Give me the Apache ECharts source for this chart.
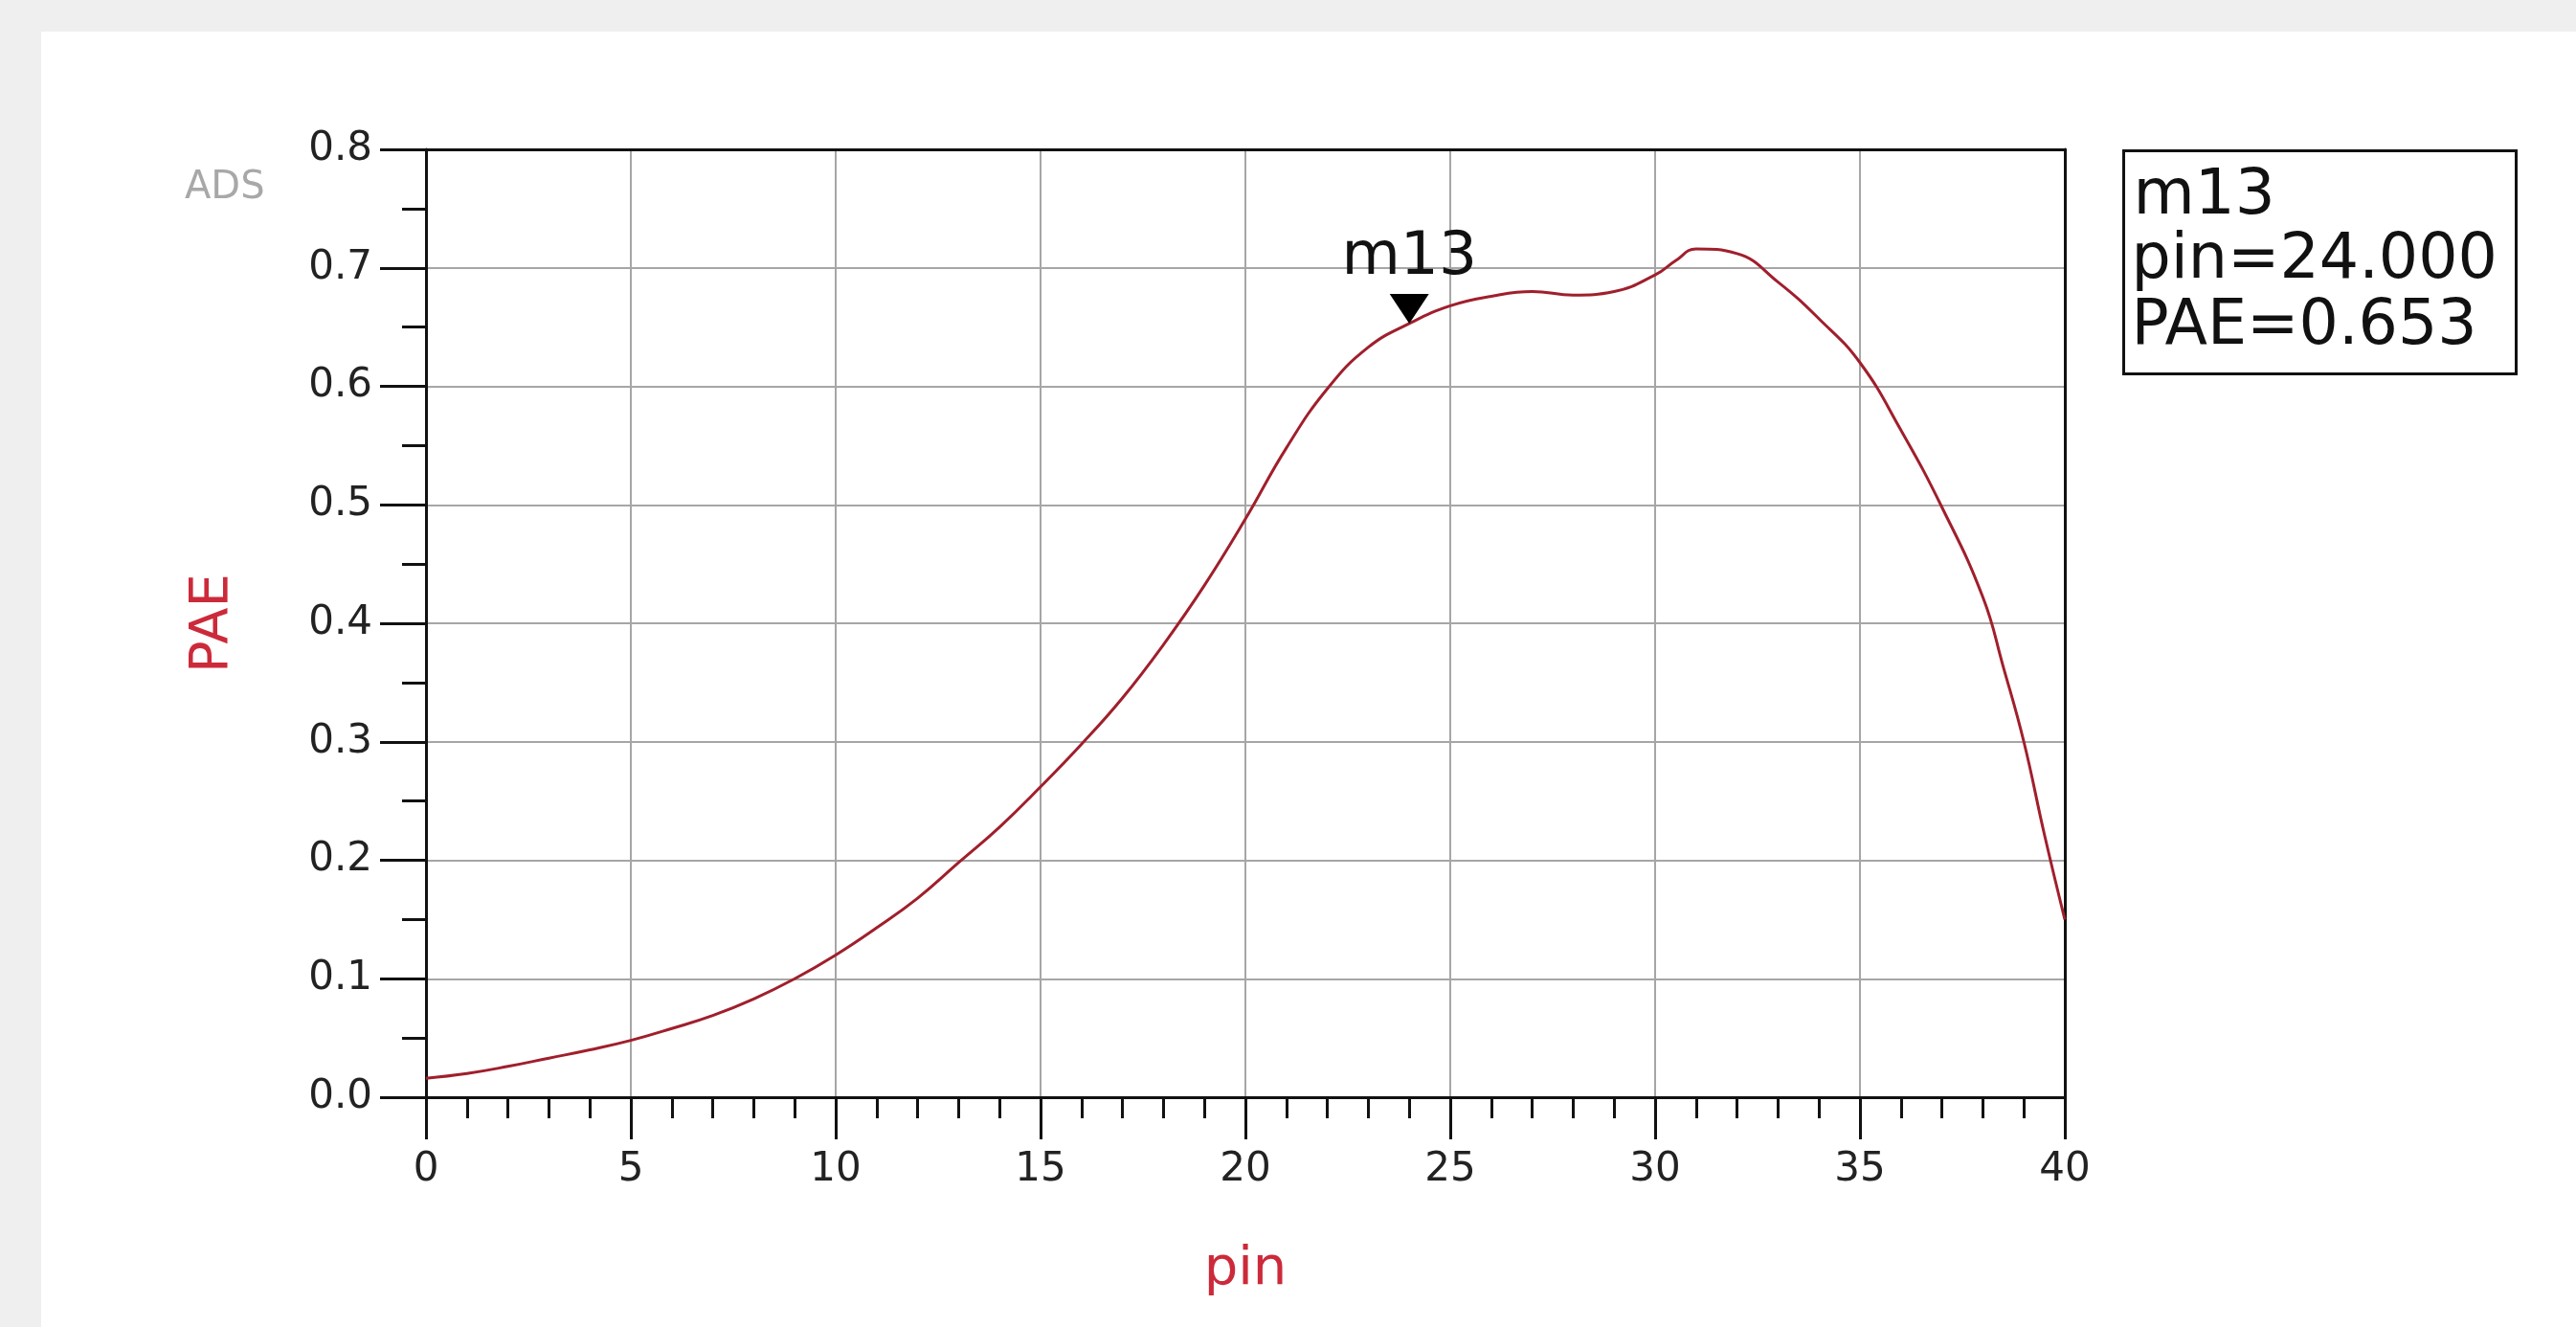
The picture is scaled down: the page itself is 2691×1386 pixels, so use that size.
<!DOCTYPE html>
<html>
<head>
<meta charset="utf-8">
<script src="https://cdn.jsdelivr.net/npm/echarts@6/dist/echarts.min.js"></script>
<style>
html,body{margin:0;padding:0;background:#efefef;}
#chart{width:2691px;height:1386px;}
</style>
</head>
<body>
<div id="chart"></div>
<script>
// ---- data ----
const pin = [0,1,2,3,4,5,6,7,8,9,10,11,12,13,14,15,16,17,18,19,20,21,22,23,24,25,26,27,28,29,30,30.5,31,32,33,34,35,36,37,38,38.5,39,39.5,40];
const pae = [0.016,0.020,0.026,0.033,0.040,0.048,0.058,0.069,0.083,0.100,0.120,0.143,0.168,0.198,0.228,0.262,0.298,0.337,0.382,0.432,0.488,0.548,0.598,0.633,0.653,0.668,0.676,0.680,0.677,0.680,0.694,0.706,0.716,0.712,0.688,0.657,0.620,0.563,0.498,0.422,0.363,0.300,0.222,0.150];
const xTicks = [0,5,10,15,20,25,30,35,40];
const yTicks = [0.0,0.1,0.2,0.3,0.4,0.5,0.6,0.7,0.8];
const markerName = 'm13';
const markerPin = 24;
const markerPae = 0.653;

const chart = echarts.init(document.getElementById('chart'), null, {renderer:'canvas'});
const FONT = 'DejaVu Sans';
const xMin = xTicks[0], xMax = xTicks[xTicks.length-1];
const yMin = yTicks[0], yMax = yTicks[yTicks.length-1];

const borderAxis = {
  axisLine:{show:true, onZero:false, lineStyle:{color:'#111111', width:3}},
  axisTick:{show:false}, axisLabel:{show:false}, splitLine:{show:false}, minorTick:{show:false}
};

const option = {
  backgroundColor: '#efefef',
  animation: false,
  graphic: [
    {type:'rect', z:-10, shape:{x:43, y:33, width:2691-43, height:1386-33}, style:{fill:'#ffffff'}, silent:true},
    {type:'text', left:193, top:177, style:{text:'ADS', font:'40px ' + FONT, fill:'#a8a8a8'}},
    {type:'group', left:2217, top:156, children:[
      {type:'rect', shape:{x:0, y:0, width:410, height:233}, style:{fill:'#ffffff', stroke:'#111111', lineWidth:3}},
      {type:'text', x:10, y:48, style:{text:markerName, font:'66px ' + FONT, fill:'#111111', verticalAlign:'middle'}},
      {type:'text', x:8, y:116, style:{text:'pin=' + markerPin.toFixed(3), font:'65px ' + FONT, fill:'#111111', verticalAlign:'middle'}},
      {type:'text', x:8, y:185, style:{text:'PAE=' + markerPae.toFixed(3), font:'65px ' + FONT, fill:'#111111', verticalAlign:'middle'}}
    ]}
  ],
  grid: {left:445, right:534, top:156, bottom:240, show:true, borderColor:'#111111', borderWidth:0, backgroundColor:'#ffffff'},
  xAxis: [{
    type:'value', min:xMin, max:xMax, interval:5,
    name:'pin', nameLocation:'middle', nameGap:152,
    nameTextStyle:{color:'#cc2a3a', fontFamily:FONT, fontSize:56},
    axisLine:{show:true, onZero:false, lineStyle:{color:'#111111', width:3}},
    axisTick:{show:true, inside:false, length:44, lineStyle:{color:'#111111', width:3}},
    minorTick:{show:true, splitNumber:5, length:22, lineStyle:{color:'#111111', width:3}},
    axisLabel:{margin:55, color:'#222222', fontFamily:FONT, fontSize:42, formatter:v=>String(v)},
    splitLine:{show:true, showMinLine:false, showMaxLine:false, lineStyle:{color:'#a6a6a6', width:2}}
  }, Object.assign({type:'value', position:'top', min:xMin, max:xMax, interval:5}, borderAxis)],
  yAxis: [{
    type:'value', min:yMin, max:yMax, interval:0.1,
    name:'PAE', nameLocation:'middle', nameGap:195, nameRotate:90,
    nameTextStyle:{color:'#cc2a3a', fontFamily:FONT, fontSize:56},
    axisLine:{show:true, onZero:false, lineStyle:{color:'#111111', width:3}},
    axisTick:{show:true, inside:false, length:48, lineStyle:{color:'#111111', width:3}},
    minorTick:{show:true, splitNumber:2, length:25, lineStyle:{color:'#111111', width:3}},
    axisLabel:{margin:56, color:'#222222', fontFamily:FONT, fontSize:42, formatter:v=>v.toFixed(1)},
    splitLine:{show:true, showMinLine:false, showMaxLine:false, lineStyle:{color:'#a6a6a6', width:2}}
  }, Object.assign({type:'value', position:'right', min:yMin, max:yMax, interval:0.1}, borderAxis)],
  series: [
    {
      type:'line', data: pin.map((x,i)=>[x, pae[i]]), smooth:0.45, showSymbol:false,
      lineStyle:{color:'#a01f2c', width:3}, z:3
    },
    {
      type:'scatter', data:[[markerPin, markerPae]], z:5,
      symbol:'path://M0,0 L10,0 L5,8 Z', symbolSize:[41,31], symbolOffset:[0,'-50%'],
      itemStyle:{color:'#000000', opacity:1},
      label:{show:true, position:'top', distance:6, formatter:markerName, color:'#111111', opacity:1, fontFamily:FONT, fontSize:63}
    }
  ]
};
chart.setOption(option);
</script>
</body>
</html>
